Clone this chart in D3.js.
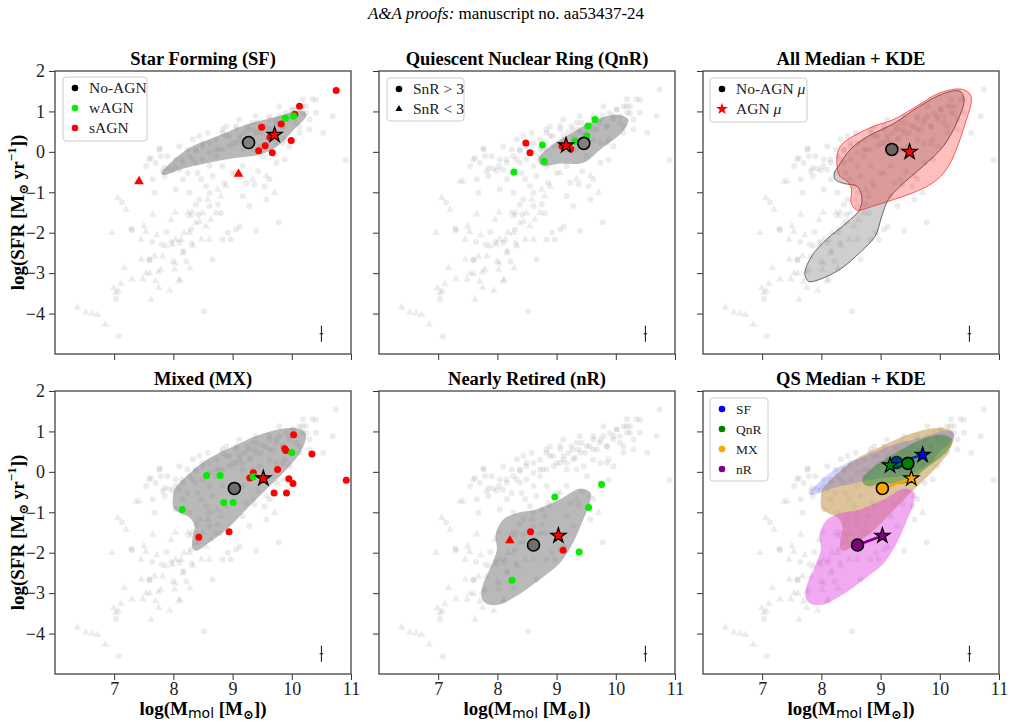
<!DOCTYPE html>
<html>
<head>
<meta charset="utf-8">
<script src="https://cdn.jsdelivr.net/npm/d3@7"></script>
<style>
  body { margin: 0; background: #fff; }
  text { font-family: "Liberation Serif", "DejaVu Serif", serif; }
</style>
</head>
<body>
<div id="chart"></div>
<script>
// ---- data (log M_mol, log SFR) ----
var xTicks = [7, 8, 9, 10, 11];
var yTicks = [2, 1, 0, -1, -2, -3, -4];

// parent sample, SnR > 3 (circles) and SnR < 3 (triangles)
var bgCircles = [
  [7.08,-4.56],[8.52,-3.94],[7.13,-1.25],[7.29,-1.9],[7.59,-2.66],[7.62,-0.15],[7.77,0.08],[7.9,-0.11],
  [7.93,-0.42],[7.99,-0.46],[8.03,-0.35],[8.1,-0.44],[8.16,-0.68],[8.24,-0.52],[8.27,-0.11],[8.33,0.31],
  [8.38,0.06],[8.41,-0.52],[8.47,-0.68],[8.49,-0.19],[8.55,-0.85],[8.61,-0.35],[8.66,-0.6],[8.72,0.06],
  [8.75,-1.3],[8.83,-0.35],[8.86,-0.77],[8.89,0.39],[8.92,-2.0],[9.0,-0.52],[9.06,-1.92],[9.12,0.39],
  [9.17,-0.35],[9.23,-0.77],[9.28,0.31],[9.37,-0.81],[9.4,-1.96],[9.43,-0.48],[9.51,-0.11],[9.54,-0.85],
  [9.62,-0.68],[9.74,-0.27],[9.78,-1.74],[9.88,-0.19],[9.96,0.14],[10.13,0.47],[10.19,1.3],[10.3,0.55],
  [10.41,0.97],[10.53,0.47],[10.69,0.88],[10.74,1.54],[10.91,-0.21],
  [9.74,0.8],[9.85,0.64],[9.96,0.88],[10.07,0.72],[10.19,0.97],[10.02,1.05],[10.24,1.13],[9.62,0.55],
  [9.51,0.64],[9.4,0.47],[9.28,0.55],[9.17,0.22],[9.06,0.22],[8.95,0.14],[8.83,0.06],[8.72,-0.11],
  [8.61,-0.02],[8.49,0.22],[8.38,-0.27],[8.16,-0.27],[8.04,-0.19],[7.7,-0.27],[7.82,-0.48],[7.54,-0.35],
  [7.65,-0.68],[7.68,-1.01],[7.85,-0.6],[8.04,-0.93],[8.27,-1.01],[8.38,-1.3],[8.61,-1.01],[8.8,-1.51],
  [8.61,-1.34],[8.44,-1.18],[9.17,-1.1],[9.28,-1.34],[9.57,-1.18],[9.12,-1.85],[8.97,-2.17],[8.83,-2.17],
  [8.1,-2.25],[8.3,-1.92],[8.66,-2.66],[9.74,0.22],[9.88,0.31],[9.62,0.88],[9.79,1.13],[10.13,1.13],
  [10.35,1.3],[9.34,0.72],[9.06,0.64],[8.83,0.55],[9.17,0.06],[9.46,0.14],
  [7.59,-0.19],[7.76,0.06],[7.85,-0.4],[8.15,-0.19],[8.24,0.06],[8.32,-0.19],[8.38,0.02],[8.49,0.14],
  [8.61,0.22],[8.72,0.3],[8.77,0.06],[8.83,0.47],[8.94,0.39],[9.0,0.22],[9.06,0.55],[9.11,0.3],
  [9.2,0.47],[9.25,0.63],[9.31,0.35],[9.37,0.55],[9.42,0.72],[9.48,0.47],[9.56,0.63],[9.62,0.8],
  [9.68,0.55],[9.73,0.72],[9.79,0.88],[9.85,0.63],[9.9,0.96],[9.96,0.8],[10.01,1.05],[10.07,0.88],
  [10.13,0.63],[10.18,1.13],[10.24,0.96],[10.3,0.8],[10.41,1.29],[9.34,0.06],[9.62,0.3],[9.85,0.22],
  [9.39,0.88],[9.11,0.8],[8.89,0.63],[8.58,0.47],[8.44,0.39],[8.1,0.14],[7.79,-0.11],
  [7.3,-1.94],[7.64,-2.23],[7.88,-1.98],[7.97,-2.23],[7.8,-2.29],[7.6,-2.68],[7.03,-3.64],
  [8.31,-2.26],[8.17,-2.46],[8.22,-2.71],[8.31,-1.5],[8.42,-1.55]
];
var bgTriangles = [
  [6.38,-3.85],[6.52,-3.97],[6.63,-3.99],[6.72,-4.03],[6.85,-4.27],[6.96,-2.0],[6.99,-3.37],[7.03,-3.49],
  [7.06,-1.14],[7.2,-1.43],[7.17,-2.87],[7.37,-0.73],[7.42,-0.73],[7.45,-2.17],[7.5,-1.84],[7.54,-3.0],
  [7.62,-3.66],[7.65,-1.55],[7.68,-2.58],[7.7,-3.2],[7.79,-2.91],[7.82,-2.58],[7.87,-2.33],[7.96,-1.68],
  [7.99,-2.71],[8.02,-2.91],[8.04,-2.17],[8.1,-3.2],[8.13,-2.17],[8.16,-2.5],[8.18,-2.0],[8.24,-1.51],
  [8.27,-2.0],[8.33,-2.33],[8.38,-1.76],[8.44,-1.72],[8.47,-2.17],[8.49,-1.51],[8.55,-1.84],[8.58,-1.18],
  [8.61,-2.17],[8.63,-1.68],[8.72,-1.51],[8.75,-0.93],[8.8,-1.1],[8.89,-0.85],[9.06,-0.52],[9.34,-0.68],
  [9.57,-0.6],[9.71,-1.01],
  [7.53,-1.98],[7.72,-2.06],[7.46,-2.66],[7.6,-3.01],[7.3,-3.15],[7.49,-3.15],[7.75,-2.97],[7.11,-3.27],
  [7.07,-3.45],[7.94,-3.43],[7.75,-3.36],[7.98,-2.29],[8.03,-2.75],[8.11,-3.16],[8.28,-2.88],[8.03,-1.5],
  [8.28,-1.58]
];

// KDE outlines
var sfKde = [[7.8,-0.54],[8.22,0.05],[8.73,0.38],[9.29,0.7],[9.75,0.87],[10.14,1.02],[10.25,0.91],
  [10.03,0.54],[9.75,0.13],[9.46,-0.07],[9.01,-0.16],[8.56,-0.28],[8.1,-0.44],[7.85,-0.57]];
var qnrKde = [[8.69,-0.19],[8.83,0.06],[9.17,0.39],[9.62,0.76],[10.02,0.92],[10.21,0.8],[10.12,0.51],
  [9.74,0.06],[9.45,-0.27],[9.06,-0.29],[8.75,-0.34]];
var mxKde = [[7.99,-0.68],[8.02,-0.43],[8.22,-0.11],[8.56,0.3],[9.01,0.63],[9.46,0.92],[9.91,1.08],
  [10.17,1.04],[10.24,0.88],[10.14,0.47],[9.91,0.06],[9.57,-0.43],[9.23,-0.93],[8.9,-1.42],[8.56,-1.79],
  [8.39,-1.95],[8.32,-1.87],[8.33,-1.58],[8.36,-1.34],[8.27,-1.13],[8.1,-1.01],[8.0,-0.89]];
var nrKde = [[7.74,-3.15],[7.75,-2.82],[7.87,-2.41],[7.99,-1.92],[7.97,-1.55],[8.1,-1.18],[8.38,-1.0],
  [8.66,-0.93],[9.06,-0.68],[9.39,-0.42],[9.56,-0.5],[9.56,-0.77],[9.45,-1.18],[9.28,-1.75],[9.06,-2.25],
  [8.72,-2.66],[8.32,-3.07],[8.04,-3.28],[7.85,-3.28]];
var noAgnKde = [[7.75,-3.15],[7.72,-2.99],[7.84,-2.57],[8.09,-2.16],[8.43,-1.75],[8.65,-1.42],[8.68,-1.09],
  [8.6,-0.85],[8.37,-0.78],[8.23,-0.68],[8.22,-0.52],[8.29,-0.35],[8.49,0.06],[8.77,0.37],[9.22,0.7],
  [9.66,1.13],[10.06,1.44],[10.34,1.5],[10.41,1.29],[10.31,0.8],[10.06,0.14],[9.72,-0.35],[9.33,-0.85],
  [9.13,-1.18],[9.02,-1.59],[8.91,-2.08],[8.65,-2.49],[8.32,-2.9],[7.98,-3.15],[7.79,-3.21]];
var agnKde = [[8.26,-0.19],[8.32,0.14],[8.54,0.39],[8.88,0.63],[9.22,0.8],[9.61,1.13],[10.0,1.46],
  [10.37,1.55],[10.52,1.41],[10.53,1.21],[10.45,0.8],[10.28,0.06],[10.11,-0.44],[9.89,-0.76],[9.55,-1.01],
  [9.22,-1.18],[8.88,-1.34],[8.6,-1.44],[8.5,-1.26],[8.51,-0.93],[8.43,-0.72],[8.31,-0.6]];

// AGN galaxies per class
var sfStrong = [[10.75,1.52],[10.13,1.13],[10.05,0.93],[9.49,0.61],[9.82,0.69],[9.63,0.36],[9.55,0.15],
  [9.44,0.03],[9.67,-0.02],[9.99,0.28]];
var sfStrongTri = [[7.42,-0.73],[9.1,-0.55]];
var sfWeak = [[9.89,0.83],[10.03,0.89]];
var qnrStrong = [[8.48,0.22],[8.55,-0.02],[9.09,0.14],[9.24,0.07]];
var qnrWeak = [[9.65,0.8],[9.53,0.64],[9.51,0.39],[9.31,0.26],[8.76,0.17],[8.79,-0.23],[8.28,-0.5]];
var mxStrong = [[8.43,-1.62],[8.94,-1.48],[9.29,-0.15],[9.35,-0.02],[9.76,0.06],[9.88,0.57],[9.9,0.53],
  [10.03,0.92],[10.34,0.44],[9.7,-0.52],[9.91,-0.52],[9.95,-0.17],[10.02,-0.29],[10.92,-0.21]];
var mxWeak = [[8.15,-0.93],[8.56,-0.09],[8.79,-0.09],[8.85,-0.76],[9.01,-0.76],[9.35,-0.12],[10.0,0.48]];
var nrStrong = [[8.56,-1.48],[9.11,-1.94]];
var nrStrongTri = [[8.21,-1.7]];
var nrWeak = [[8.97,-0.62],[9.54,-0.88],[9.76,-0.31],[9.38,-1.98],[8.25,-2.68]];

// medians: No-AGN (circle) and AGN (star) per class
var classNames = ["SF", "QnR", "MX", "nR"];
var classColors = ["blue", "green", "orange", "purple"];
var medNoAgn = [[9.27,0.23],[9.46,0.21],[9.03,-0.41],[8.61,-1.81]];
var medAgn = [[9.71,0.42],[9.16,0.16],[9.52,-0.16],[9.03,-1.58]];
var allMedNoAgn = [9.19,0.06];
var allMedAgn = [9.49,0.0];

// typical error bar
var errPoint = [10.5,-4.5];
var errSize = [0.03,0.2];

// ---- layout ----
var width = 1012, height = 724;
var panelW = 296, panelH = 283;
var colX = [55, 379, 703], rowY = [71, 391];

var svg = d3.select("#chart").append("svg")
    .attr("width", width)
    .attr("height", height);

var x = d3.scaleLinear().domain([6, 11]).range([0, panelW]);
var y = d3.scaleLinear().domain([-5, 2]).range([panelH, 0]);

var kdeLine = d3.line()
    .x(function(d) { return x(d[0]); })
    .y(function(d) { return y(d[1]); })
    .curve(d3.curveCatmullRomClosed.alpha(0.5));

var fmt = function(d) { return d < 0 ? "\u2212" + Math.abs(d) : String(d); };

// header
var header = svg.append("text")
    .attr("x", width / 2).attr("y", 19)
    .attr("text-anchor", "middle")
    .style("font-size", "17px");
header.append("tspan").style("font-style", "italic").text("A&A proofs:");
header.append("tspan").text(" manuscript no. aa53437-24");

function makePanel(col, row, title) {
    var g = svg.append("g")
        .attr("transform", "translate(" + colX[col] + "," + rowY[row] + ")");

    g.append("text")
        .attr("x", panelW / 2).attr("y", -6)
        .attr("text-anchor", "middle")
        .style("font-size", "18.5px").style("font-weight", "bold")
        .text(title);

    g.append("g").selectAll("circle")
        .data(bgCircles).enter().append("circle")
        .attr("cx", function(d) { return x(d[0]); })
        .attr("cy", function(d) { return y(d[1]); })
        .attr("r", 3)
        .attr("fill", "#888").attr("fill-opacity", 0.16);

    g.append("g").selectAll("path")
        .data(bgTriangles).enter().append("path")
        .attr("d", d3.symbol().type(d3.symbolTriangle).size(26))
        .attr("transform", function(d) { return "translate(" + x(d[0]) + "," + y(d[1]) + ")"; })
        .attr("fill", "#888").attr("fill-opacity", 0.16);

    var yAxis = g.append("g")
        .call(d3.axisLeft(y).tickValues(yTicks).tickSize(6).tickPadding(4)
            .tickFormat(col === 0 ? fmt : function() { return ""; }));
    var xAxis = g.append("g")
        .attr("transform", "translate(0," + panelH + ")")
        .call(d3.axisBottom(x).tickValues(xTicks).tickSize(6).tickPadding(2)
            .tickFormat(row === 1 ? fmt : function() { return ""; }));
    [yAxis, xAxis].forEach(function(a) {
        a.select(".domain").remove();
        a.selectAll("line").attr("stroke", "#333");
        a.selectAll("text").attr("fill", "#222")
            .style("font-size", "18px").style("font-family", "'Liberation Serif', serif");
    });

    // error bar
    g.append("line")
        .attr("x1", x(errPoint[0])).attr("x2", x(errPoint[0]))
        .attr("y1", y(errPoint[1] - errSize[1])).attr("y2", y(errPoint[1] + errSize[1]))
        .attr("stroke", "#111").attr("stroke-width", 1);
    g.append("line")
        .attr("x1", x(errPoint[0] - errSize[0])).attr("x2", x(errPoint[0] + errSize[0]))
        .attr("y1", y(errPoint[1])).attr("y2", y(errPoint[1]))
        .attr("stroke", "#111").attr("stroke-width", 1);

    return g;
}

function frame(g) {
    g.append("rect")
        .attr("width", panelW).attr("height", panelH)
        .attr("fill", "none").attr("stroke", "#444").attr("stroke-width", 1.3);
}

function kde(g, pts, fill, op, stroke) {
    g.append("path").datum(pts)
        .attr("d", kdeLine)
        .attr("fill", fill).attr("fill-opacity", op)
        .attr("stroke", stroke || "none").attr("stroke-width", 1);
}

function dots(g, pts, color, r) {
    g.append("g").selectAll("circle")
        .data(pts).enter().append("circle")
        .attr("cx", function(d) { return x(d[0]); })
        .attr("cy", function(d) { return y(d[1]); })
        .attr("r", r || 3.5)
        .attr("fill", color);
}

function tris(g, pts, color) {
    g.append("g").selectAll("path")
        .data(pts).enter().append("path")
        .attr("d", d3.symbol().type(d3.symbolTriangle).size(40))
        .attr("transform", function(d) { return "translate(" + x(d[0]) + "," + y(d[1]) + ")"; })
        .attr("fill", color);
}

function medCircle(g, p, fill) {
    g.append("circle")
        .attr("cx", x(p[0])).attr("cy", y(p[1])).attr("r", 6)
        .attr("fill", fill).attr("stroke", "#000").attr("stroke-width", 1.6);
}

function medStar(g, p, fill) {
    g.append("path")
        .attr("d", d3.symbol().type(d3.symbolStar).size(72))
        .attr("transform", "translate(" + x(p[0]) + "," + y(p[1]) + ")")
        .attr("fill", fill).attr("stroke", "#000").attr("stroke-width", 1.2);
}

function legend(g, bx, by, bw, bh, items, gap, fs) {
    var lg = g.append("g").attr("transform", "translate(" + bx + "," + by + ")");
    lg.append("rect")
        .attr("width", bw).attr("height", bh).attr("rx", 3)
        .attr("fill", "#fff").attr("fill-opacity", 0.85)
        .attr("stroke", "#ccc").attr("stroke-width", 1);
    items.forEach(function(it, i) {
        var cy = 11 + i * gap;
        if (it.shape === "tri") {
            lg.append("path").attr("d", d3.symbol().type(d3.symbolTriangle).size(22))
                .attr("transform", "translate(12," + cy + ")").attr("fill", it.color);
        } else if (it.shape === "star") {
            lg.append("path").attr("d", d3.symbol().type(d3.symbolStar).size(45))
                .attr("transform", "translate(12," + cy + ")").attr("fill", it.color);
        } else {
            lg.append("circle").attr("cx", 12).attr("cy", cy).attr("r", 3.3).attr("fill", it.color);
        }
        var t = lg.append("text").attr("x", 26).attr("y", cy + 5).style("font-size", fs + "px").attr("fill", "#222");
        it.label.forEach(function(part) {
            t.append("tspan").style("font-style", part[1] ? "italic" : "normal").text(part[0]);
        });
    });
}

// ---- panel 1: SF ----
var p1 = makePanel(0, 0, "Star Forming (SF)");
kde(p1, sfKde, "#7f7f7f", 0.55);
dots(p1, sfStrong, "#ff0000");
tris(p1, sfStrongTri, "#ff0000");
dots(p1, sfWeak, "#00ee00");
medCircle(p1, medNoAgn[0], "#808080");
medStar(p1, medAgn[0], "#ff0000");
legend(p1, 8, 6, 84, 64, [
    {label: [["No-AGN"]], color: "#000"},
    {label: [["wAGN"]], color: "#00ee00"},
    {label: [["sAGN"]], color: "#ff0000"}], 20, 15.5);
frame(p1);

// ---- panel 2: QnR ----
var p2 = makePanel(1, 0, "Quiescent Nuclear Ring (QnR)");
kde(p2, qnrKde, "#7f7f7f", 0.55);
dots(p2, qnrStrong, "#ff0000");
dots(p2, qnrWeak, "#00ee00");
medCircle(p2, medNoAgn[1], "#808080");
medStar(p2, medAgn[1], "#ff0000");
legend(p2, 8, 7, 77, 43, [
    {label: [["SnR > 3"]], color: "#000"},
    {label: [["SnR < 3"]], color: "#000", shape: "tri"}], 20, 15.5);
frame(p2);

// ---- panel 3: all ----
var p3 = makePanel(2, 0, "All Median + KDE");
kde(p3, noAgnKde, "#808080", 0.38, "#666");
kde(p3, agnKde, "#ff0000", 0.25, "rgba(255,0,0,0.6)");
medCircle(p3, allMedNoAgn, "#6e6262");
medStar(p3, allMedAgn, "#ff0000");
legend(p3, 7, 7, 97, 44, [
    {label: [["No-AGN "], ["\u03bc", true]], color: "#000"},
    {label: [["AGN "], ["\u03bc", true]], color: "#ff0000", shape: "star"}], 20, 15.5);
frame(p3);

// ---- panel 4: MX ----
var p4 = makePanel(0, 1, "Mixed (MX)");
kde(p4, mxKde, "#7f7f7f", 0.55);
dots(p4, mxStrong, "#ff0000");
dots(p4, mxWeak, "#00ee00");
medCircle(p4, medNoAgn[2], "#707070");
medStar(p4, medAgn[2], "#ff0000");
frame(p4);

// ---- panel 5: nR ----
var p5 = makePanel(1, 1, "Nearly Retired (nR)");
kde(p5, nrKde, "#7f7f7f", 0.55);
dots(p5, nrStrong, "#ff0000");
tris(p5, nrStrongTri, "#ff0000");
dots(p5, nrWeak, "#00ee00");
medCircle(p5, medNoAgn[3], "#707070");
medStar(p5, medAgn[3], "#ff0000");
frame(p5);

// ---- panel 6: QS medians ----
var p6 = makePanel(2, 1, "QS Median + KDE");
function medLine(i) {
    p6.append("line")
        .attr("x1", x(medNoAgn[i][0])).attr("y1", y(medNoAgn[i][1]))
        .attr("x2", x(medAgn[i][0])).attr("y2", y(medAgn[i][1]))
        .attr("stroke", classColors[i]).attr("stroke-width", 2.5);
}
kde(p6, mxKde, "#c9a05e", 0.62);
kde(p6, nrKde, "#e040e0", 0.45);
kde(p6, sfKde, "#3040ff", 0.22);
medLine(0);
medCircle(p6, medNoAgn[0], classColors[0]);
kde(p6, qnrKde, "#008000", 0.38);
[1, 2, 3].forEach(function(i) { medLine(i); });
[1, 2, 3].forEach(function(i) { medCircle(p6, medNoAgn[i], classColors[i]); });
classNames.forEach(function(c, i) { medStar(p6, medAgn[i], classColors[i]); });
legend(p6, 7, 7, 58, 83, classNames.map(function(c, i) {
    return {label: [[c]], color: classColors[i]};
}), 20, 13.5);
frame(p6);

// ---- axis titles ----
[0, 1].forEach(function(r) {
    var t = svg.append("text")
        .attr("transform", "translate(24," + (rowY[r] + panelH / 2) + ") rotate(-90)")
        .attr("text-anchor", "middle")
        .style("font-size", "19px").style("font-weight", "bold");
    t.append("tspan").text("log(SFR [M");
    t.append("tspan").attr("dy", 4).style("font-size", "13px").text("\u2299");
    t.append("tspan").attr("dy", -4).text(" yr");
    t.append("tspan").attr("dy", -8).style("font-size", "13px").text("\u22121");
    t.append("tspan").attr("dy", 8).text("])");
});
colX.forEach(function(cx) {
    var t = svg.append("text")
        .attr("x", cx + panelW / 2).attr("y", 715)
        .attr("text-anchor", "middle")
        .style("font-size", "19px").style("font-weight", "bold");
    t.append("tspan").text("log(M");
    t.append("tspan").attr("dy", 3)
        .style("font-family", "'DejaVu Sans', sans-serif").style("font-weight", "normal")
        .style("font-size", "14px").text("mol");
    t.append("tspan").attr("dy", -3).text(" [M");
    t.append("tspan").attr("dy", 4).style("font-size", "13px").text("\u2299");
    t.append("tspan").attr("dy", -4).text("])");
});
</script>
</body>
</html>
